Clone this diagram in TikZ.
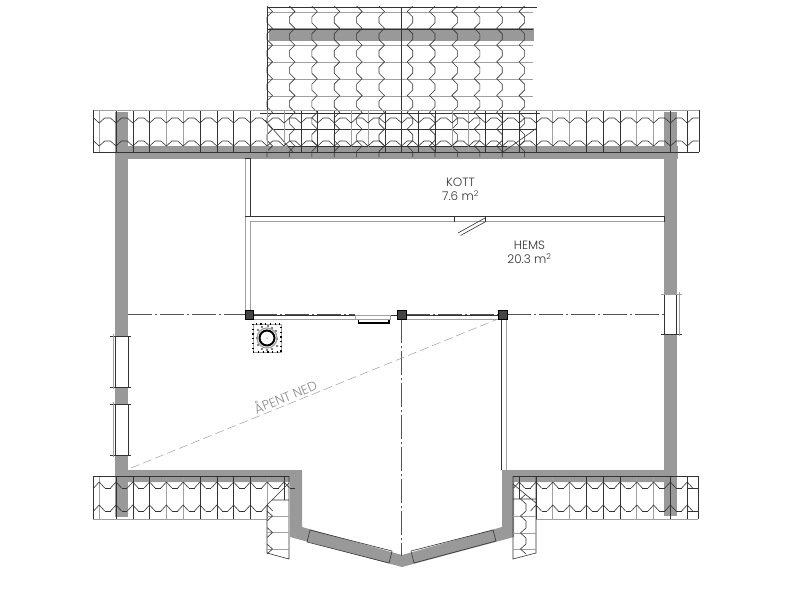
\documentclass[tikz,border=0pt]{standalone}
\usepackage{fontspec}
\setmainfont{Poppins Light}
\definecolor{wallc}{HTML}{999999}
\definecolor{ink}{HTML}{333333}
\definecolor{ghost}{HTML}{A0A0A0}
\definecolor{postc}{HTML}{444444}
\tikzset{
  wall/.style={fill=wallc,draw=none},
  inkl/.style={draw=ink,line width=.6pt,line join=miter},
  ghostl/.style={draw=ghost,line width=.9pt},
  axisl/.style={draw=ink!85,line width=.4pt,dash pattern=on 24pt off 3pt on 2pt off 3pt},
  lbl/.style={font=\fontsize{12}{14.5}\selectfont,text=black!80,inner sep=0pt,align=center}
}
\begin{document}
\begin{tikzpicture}[x=1pt,y=-1pt]
\useasboundingbox (0,0) rectangle (790,600);
\fill[white] (0,0) rectangle (790,600);
% walls
\fill[wall] (115,146) rectangle (678,159);
\fill[wall] (115,112) rectangle (128,517);
\fill[wall] (664,112) rectangle (677,516);
\fill[wall] (269,28) rectangle (534,41);
\fill[wall] (128,470) -- (302,470) -- (302,527) -- (402,555) -- (502,527) -- (502,470) -- (664,470) -- (664,482)
  -- (514,482) -- (514,537) -- (402,567) -- (290,537) -- (290,482) -- (128,482) -- cycle;
% bay window edges
\draw[inkl] (310,530) -- (392,551) (307,542) -- (389,563) (310,530) -- (307,542) (392,551) -- (389,563);
\draw[inkl] (411,551) -- (493,530) (414,563) -- (496,541) (411,551) -- (414,563) (493,530) -- (496,541);
% side windows
\fill[white] (115,336) rectangle (128,387);
\fill[white] (115,404) rectangle (128,455);
\fill[white] (664,294) rectangle (677,334);
\draw[inkl] (115,336) -- (115,387) (128,336) -- (128,387) (115,404) -- (115,455) (128,404) -- (128,455);
\draw[inkl] (110,336) -- (131,336) (110,387) -- (131,387) (110,404) -- (131,404) (110,455) -- (131,455);
\draw[ghostl] (113,334) -- (113,389) (113,402) -- (113,457);
\draw[inkl] (664,294) -- (664,334) (676.5,294) -- (676.5,334) (661,334) -- (682,334);
\draw[ghostl] (661,294) -- (682,294) (679,292) -- (679,336);
% dormer roof
\foreach \n/\st in {0/ghostl,1/inkl,2/ghostl,3/ghostl,4/ghostl,5/ghostl}
  {\pgfmathsetmacro\yy{12+16.8*\n}\draw[\st] (267,\yy) -- (533,\yy);}
\draw[inkl] (267,7) -- (537,7);
\draw[ghostl] (260,110) -- (700,110);
\draw[inkl] (260,113) -- (540,113);
\draw[inkl] (274,129) -- (536,129) (288,146) -- (507,146);
\draw[inkl] (267,7) -- (267,120);
\draw[ghostl] (267,120) -- (267,152);
\draw[inkl] (401,7) -- (401,152);
\draw[inkl] (265,120) -- (293,152) (503,152) -- (537,128);
\foreach \c/\s in {267/1,289.4/1,311.8/1,334.2/1,356.6/1,379/1,412.7/-1,435/-1,457.4/-1,479.8/-1,502.2/-1,524.6/-1}{
  \foreach \n in {0,...,8}{
    \pgfmathsetmacro\yy{11.5+16.8*\n}
    \pgfmathsetmacro\ya{\yy-5.5}
    \pgfmathsetmacro\yb{\yy+5.5}
    \pgfmathsetmacro\yc{\yy+11.3}
    \pgfmathsetmacro\xt{\c+5.5*\s}
    \draw[inkl] (\c,\ya) -- (\xt,\yy) -- (\c,\yb) -- (\c,\yc);
  }
}
% eave strip, top
\foreach \k in {0,1,2,5,6,7,8,11,12,13,16,17,18,19,22,23,24,25,28,29,30,33,34}
  {\pgfmathsetmacro\xk{116+16.8*\k}\draw[inkl] (\xk,110) -- (\xk,152);}
\foreach \k in {-1,3,4,9,10,14,15,20,21,26,27,31,32}
  {\pgfmathsetmacro\xk{116+16.8*\k}\draw[ghostl] (\xk,110) -- (\xk,152);}
\draw[ghostl] (93,110) -- (699,110);
\draw[inkl] (93,152) -- (699,152) (93,110) -- (93,152) (699,110) -- (699,152);
\foreach \k in {-1,...,34}{
  \pgfmathsetmacro\xk{116+16.8*\k}
  \pgfmathsetmacro\xa{\xk-5.5}
  \pgfmathsetmacro\xb{\xk+5.5}
  \pgfmathsetmacro\xc{\xk+11.3}
  \draw[inkl] (\xa,118) -- (\xk,123) -- (\xb,118) -- (\xc,118);
  \draw[inkl] (\xa,141) -- (\xk,146) -- (\xb,141) -- (\xc,141);
}
% eave strips, bottom
\foreach \k in {0,1,2,5,6,7,8,25,28,29,30,33,34}
  {\pgfmathsetmacro\xk{116+16.8*\k}\draw[inkl] (\xk,476) -- (\xk,519);}
\foreach \k in {-1,3,4,9,26,27,31,32}
  {\pgfmathsetmacro\xk{116+16.8*\k}\draw[ghostl] (\xk,476) -- (\xk,519);}
\draw[inkl] (284,476) -- (284,500) (519,476) -- (519,499);
\draw[inkl] (93,476) -- (289,476) (513,476) -- (698,476) (93,476) -- (93,519) (698,476) -- (698,519);
\draw[ghostl] (93,519) -- (267,519) (536,519) -- (698,519);
\foreach \k in {-1,...,10,24,25,...,34}{
  \pgfmathsetmacro\xk{116+16.8*\k}
  \pgfmathsetmacro\xa{\xk-5.5}
  \pgfmathsetmacro\xb{\xk+5.5}
  \pgfmathsetmacro\xc{\xk+11.3}
  \draw[inkl] (\xa,488) -- (\xk,482) -- (\xb,488);
  \ifnum\k<34 \draw[inkl] (\xb,488) -- (\xc,488);\fi
}
\foreach \k in {-1,...,9,25,26,...,34}{
  \pgfmathsetmacro\xk{116+16.8*\k}
  \pgfmathsetmacro\xa{\xk-5.5}
  \pgfmathsetmacro\xb{\xk+5.5}
  \pgfmathsetmacro\xc{\xk+11.3}
  \draw[inkl] (\xa,511) -- (\xk,505) -- (\xb,511);
  \ifnum\k<34 \ifnum\k=9 \else \draw[inkl] (\xb,511) -- (\xc,511);\fi\fi
}
\draw[inkl] (687,488) -- (698,488) (687,511) -- (698,511);
% valley pieces, lower left
\draw[inkl] (267,505) -- (289,483) (272,500) -- (289,500);
\draw[inkl] (267,505) -- (267,553) -- (289,559) -- (289,476);
\draw[ghostl] (267,516) -- (289,516) (267,532.5) -- (289,532.5) (267,549) -- (289,549);
\foreach \yy in {516,532.5,549}{
  \draw[inkl] (267,\yy-5) -- (272.5,\yy) -- (267,\yy+5);
}
% valley pieces, lower right
\draw[inkl] (513,484) -- (536,503) (513,499) -- (536,499);
\draw[inkl] (536,476) -- (536,553) -- (513,559) -- (513,476);
\draw[ghostl] (513,516) -- (536,516) (513,533) -- (536,533) (513,549) -- (536,549);
\draw[inkl] (526,494) -- (520.5,499) -- (526,504) -- (526,511) -- (520.5,516) -- (526,521) -- (526,528) -- (520.5,533) -- (526,538) -- (526,544) -- (520.5,549) -- (526,554);
% thin partitions
\draw[ghostl] (245.5,159) -- (245.5,310) (250,221.5) -- (250,310) (250,221.5) -- (664,221.5);
\draw[inkl] (245,158.5) -- (250.5,158.5) (250.5,158.5) -- (250.5,216) -- (664,216) (245,216) -- (250.5,216) (664,216) -- (664,222);
\draw[inkl] (454,216) -- (454,222) (485,216) -- (485,222);
\draw[inkl] (485,218) -- (458,233) (485,222) -- (460.5,235.5);
% stair wall
\draw[inkl] (501,319) -- (501,470);
\draw[ghostl] (506,319) -- (506,470);
% axes
\draw[axisl] (128,314) -- (245,314) (507,314) -- (664,314) (253,314) -- (355,314) (406,314) -- (498,314);
\draw[axisl] (401,319) -- (401,556);
\draw[draw=ghost,line width=.5pt,dash pattern=on 9pt off 4pt] (131,468) -- (498,319);
% railing and door
\draw[ink,line width=.8pt] (253,315.5) -- (355,315.5) (390,315.5) -- (397,315.5) (406,315.5) -- (498,315.5);
\draw[ghostl] (253,319.5) -- (355,319.5) (406,319.5) -- (498,319.5);
\draw[ghostl,line width=.6pt] (355,315.5) rectangle (390,319.5);
\draw[black,line width=1.5pt] (358.5,319.5) -- (358.5,323) -- (389,323) -- (389,319.5);
% posts
\fill[postc,draw=black,line width=.3pt] (245,310) rectangle (253.5,319);
\fill[postc,draw=black,line width=.3pt] (397,310) rectangle (406,319);
\fill[postc,draw=black,line width=.3pt] (498,310) rectangle (507,319);
% chimney
\draw[ghost,line width=.5pt] (253,324) rectangle (281,352);
\draw[draw=black,line width=1.1pt,dash pattern=on 1.2pt off 3.5pt] (253,324) rectangle (281,352);
\foreach \px/\py in {258/330,262/327,272/328,276/331,257/338,277/339,258/345,262/349,272/349,277/346,268/326,267/350}
  {\fill[black] (\px,\py) circle (.8);}
\draw[ghost,line width=1.2pt] (267,338) circle (10);
\draw[black,line width=2pt] (267,338) circle (7.5);
\fill[ink] (267,338) circle (.5);
% labels
\node[lbl] (kott) at (460.5,189.5) {KOTT\\7.6 m\textsuperscript{2}};
\node[lbl] (hems) at (529.5,252.5) {HEMS\\20.3 m\textsuperscript{2}};
\node[lbl,text=black!45,rotate=22,font=\fontsize{13}{15}\selectfont] (open) at (285,396) {ÅPENT NED};
\end{tikzpicture}
\end{document}
